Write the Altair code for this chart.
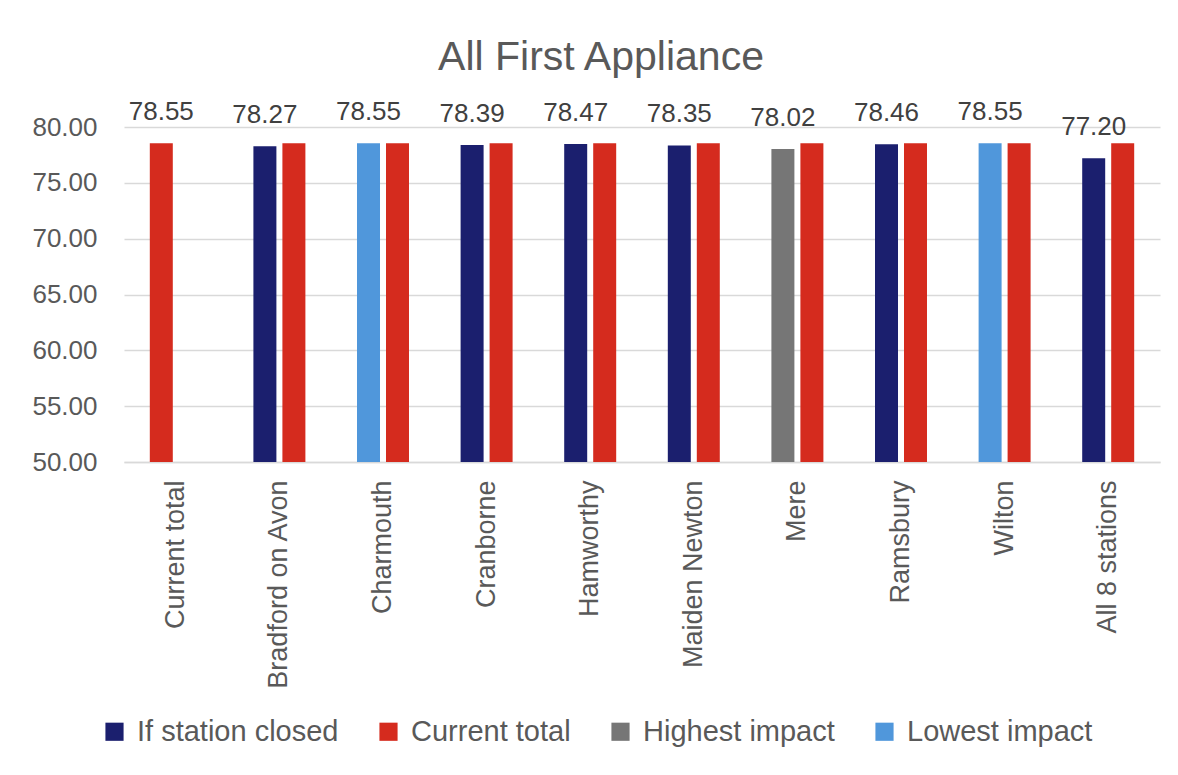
import altair as alt
import pandas as pd

stations = ["Current total", "Bradford on Avon", "Charmouth", "Cranborne", "Hamworthy",
            "Maiden Newton", "Mere", "Ramsbury", "Wilton", "All 8 stations"]
closed_values = [78.55, 78.27, 78.55, 78.39, 78.47, 78.35, 78.02, 78.46, 78.55, 77.20]
closed_groups = ["Current total", "If station closed", "Lowest impact", "If station closed",
                 "If station closed", "If station closed", "Highest impact", "If station closed",
                 "Lowest impact", "If station closed"]
current_values = [None, 78.55, 78.55, 78.55, 78.55, 78.55, 78.55, 78.55, 78.55, 78.55]

legend_names = ["If station closed", "Current total", "Highest impact", "Lowest impact"]
legend_colors = ["#1b1f6e", "#d52b1e", "#767676", "#5097db"]

rows = []
for s, v, g, c in zip(stations, closed_values, closed_groups, current_values):
    rows.append({"station": s, "slot": "a", "value": v, "group": g, "label": f"{v:.2f}"})
    if c is not None:
        rows.append({"station": s, "slot": "b", "value": c, "group": "Current total", "label": ""})
df = pd.DataFrame(rows)

FONT = "Liberation Sans"

x = alt.X("station:N", sort=stations, title=None,
          scale=alt.Scale(paddingInner=0, paddingOuter=0),
          axis=alt.Axis(labelAngle=270, labelFontSize=27, labelColor="#595959", labelFont=FONT,
                        labelPadding=18, ticks=False, domainColor="#d9d9d9", domainWidth=1.5,
                        labelLimit=300))
xo = alt.XOffset("slot:N", sort=["a", "b"], scale=alt.Scale(paddingInner=0.207, paddingOuter=0.89))
y = alt.Y("value:Q", title=None,
          scale=alt.Scale(domain=[50, 80], nice=False, zero=False),
          axis=alt.Axis(values=[50, 55, 60, 65, 70, 75, 80], format=".2f", labelFontSize=26,
                        labelColor="#595959", labelFont=FONT, labelPadding=27, ticks=False,
                        domain=False, gridColor="#d9d9d9", gridWidth=1.5))

bars = alt.Chart(df).mark_bar().encode(
    x=x, xOffset=xo, y=y, y2=alt.Y2Datum(50),
    color=alt.Color("group:N",
                    scale=alt.Scale(domain=legend_names, range=legend_colors),
                    legend=alt.Legend(title=None, orient="none", direction="horizontal",
                                      legendX=-24, legendY=590, symbolType="square",
                                      symbolSize=330, symbolStrokeWidth=0,
                                      labelFontSize=29, labelFont=FONT, labelColor="#595959",
                                      labelOffset=8, columnPadding=35, labelLimit=400)),
)

labels = alt.Chart(df).transform_filter(alt.datum.slot == "a").mark_text(
    fontSize=26, font=FONT, color="#404040", baseline="alphabetic", dy=-23
).encode(x=x, xOffset=xo, y=y, text="label:N")

chart = alt.layer(bars, labels).properties(
    width=1036, height=335,
    title=alt.TitleParams("All First Appliance", fontSize=41, font=FONT, color="#595959",
                          fontWeight="normal", anchor="middle", dx=-41, offset=20),
    padding={"left": 116, "top": 119, "right": 10, "bottom": 290},
    autosize=alt.AutoSizeParams(type="none"),
).configure_view(stroke=None)

chart.save("out.html", embed_options={"renderer": "svg", "actions": False})
